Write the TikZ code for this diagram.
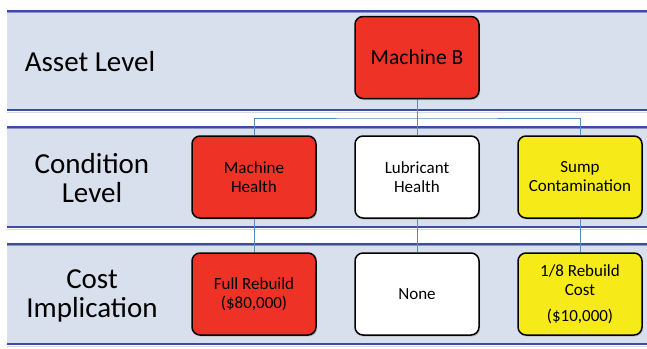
\documentclass[tikz,border=0pt]{standalone}
\usepackage{fontspec}
\setmainfont{Carlito}
\usetikzlibrary{shadows}

\definecolor{bandfill}{HTML}{D9E0ED}
\definecolor{bandline}{HTML}{3D4C9E}
\definecolor{bandedge}{HTML}{8A93C8}
\definecolor{linkblue}{HTML}{5B8AC0}
\definecolor{boxred}{HTML}{EE3326}
\definecolor{boxyellow}{HTML}{F6EA18}

\pgfdeclarelayer{bands}
\pgfdeclarelayer{links}
\pgfsetlayers{bands,links,main}

\tikzset{
  box/.style={draw=black, line width=1.5pt, rounded corners=8pt,
    minimum width=124pt, minimum height=82pt, inner sep=2pt, align=center,
    font=\fontsize{17}{19}\selectfont,
    drop shadow={shadow xshift=1pt, shadow yshift=-1.5pt, opacity=0.35}},
  levelname/.style={align=center, font=\fontsize{29}{29}\selectfont},
  link/.style={linkblue, line width=0.9pt}
}

\begin{document}
\begin{tikzpicture}[x=1pt,y=-1pt]
    \useasboundingbox (0,0) rectangle (647,348);

    % bands
    \begin{pgfonlayer}{bands}
    \foreach \top/\bot in {11/110, 127/227, 244/344} {
        \fill[bandfill] (7,\top) rectangle (647,\bot);
        \draw[gray!30, line width=1pt] (7,\bot+2) -- (647,\bot+2);
        \draw[bandedge, line width=1pt] (7,\top+1.2) -- (647,\top+1.2);
        \draw[bandline, line width=1.3pt] (7,\top) -- (647,\top);
        \draw[bandline, line width=2.2pt] (7,\bot) -- (647,\bot);
    }
    \end{pgfonlayer}

    % row names
    \node[levelname] (asset) at (90,62) {Asset Level};
    \node[levelname] (cond) at (92,178) {Condition\\Level};
    \node[levelname] (cost) at (92,296) {Cost\\Implication};

    % boxes
    \node[box, fill=boxred, font=\fontsize{21.5}{23}\selectfont] (mb) at (417,57.5) {Machine B};

    \node[box, fill=boxred] (mh) at (254,177) {Machine\\Health};
    \node[box, fill=white] (lh) at (417,177) {Lubricant\\Health};
    \node[box, fill=boxyellow] (sc) at (580,177) {Sump\\Contamination};

    \node[box, fill=boxred] (fr) at (254,294) {Full Rebuild\\(\$80,000)};
    \node[box, fill=white] (no) at (417,294) {None};
    \node[box, fill=boxyellow] (eb) at (580,294) {1/8 Rebuild\\Cost\\[7pt](\$10,000)};

    % connectors
    \coordinate (bus) at (417,118);
    \begin{pgfonlayer}{links}
    \draw[link] (mb.south) -- (lh.north);
    \draw[link] (mh.north) |- (bus) -| (sc.north);
    \draw[link] (mh.south) -- (fr.north);
    \draw[link] (lh.south) -- (no.north);
    \draw[link] (sc.south) -- (eb.north);
    \end{pgfonlayer}

\end{tikzpicture}
\end{document}
